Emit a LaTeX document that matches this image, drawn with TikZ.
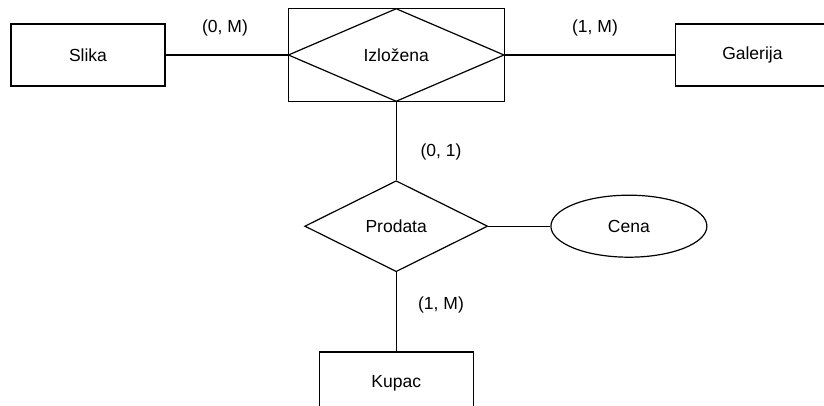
\documentclass[tikz,border=0pt]{standalone}
\usepackage{fontspec}
\setmainfont{Liberation Sans}
\usetikzlibrary{positioning,shapes.geometric}

\tikzset{
  entity/.style={draw, rectangle, line width=1.2pt, minimum width=154pt, minimum height=62pt, inner sep=0pt},
  relation/.style={draw, diamond, line width=1.2pt, minimum width=183pt, minimum height=91pt, inner sep=0pt},
  attrib/.style={draw, ellipse, line width=1.2pt, minimum width=156pt, minimum height=62pt, inner sep=0pt},
  card/.style={inner sep=0pt},
}

\begin{document}
\begin{tikzpicture}[x=1pt, y=-1pt, font=\fontsize{17.5}{20}\selectfont]
      \useasboundingbox (0,0) rectangle (824,406);
      \clip (0,0) rectangle (824,406);

      \node[entity] (slika) at (88,55) {Slika};
      \node[draw, line width=1.2pt, minimum width=216pt, minimum height=93pt, inner sep=0pt,
            right=122pt of slika] (izlbox) {};
      \node[relation, minimum width=216pt, minimum height=93pt] (izl) at (izlbox) {Izložena};
      \node[entity, right=170pt of izlbox] (galerija) {Galerija};

      \node[relation, below=78pt of izlbox] (prodata) {Prodata};
      \node[attrib, right=62pt of prodata] (cena) {Cena};
      \node[entity, below=79pt of prodata] (kupac) {Kupac};

      \draw[line width=1.2pt] (slika)--(izl.west);
      \draw[line width=1.2pt] (izl.east)--(galerija);
      \draw[line width=1.2pt] (izl.south)--(prodata);
      \draw[line width=1.2pt] (prodata)--(cena);
      \draw[line width=1.2pt] (prodata)--(kupac);

      \node[card] (c1) at (225,28) {(0, M)};
      \node[card] (c2) at (595,28) {(1, M)};
      \node[card] (c3) at (441,152) {(0, 1)};
      \node[card] (c4) at (441,305) {(1, M)};
    \end{tikzpicture}
\end{document}
